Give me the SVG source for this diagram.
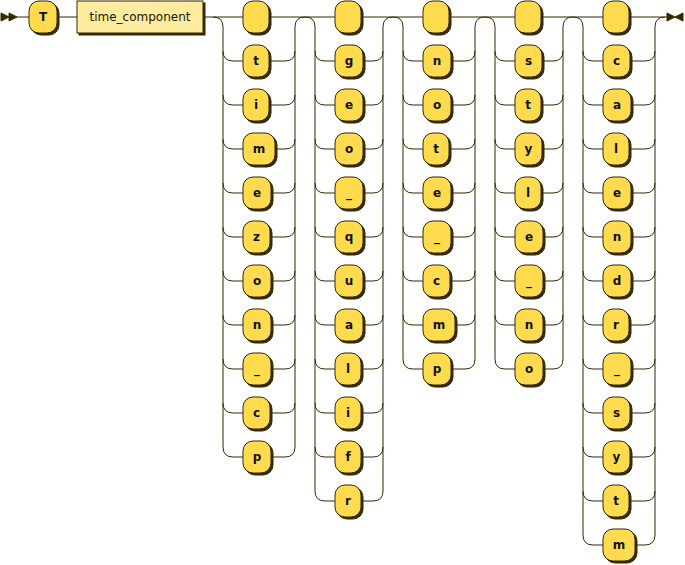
<svg xmlns="http://www.w3.org/2000/svg" width="685" height="565" viewBox="0 0 685 565">
<style>
.line{fill:none;stroke:#332900;stroke-width:1}
.mark{fill:#332900;stroke:#332900;stroke-width:1}
.sh{fill:#332900;stroke:#332900;stroke-width:1}
.term{fill:#FFDB4D;stroke:#332900;stroke-width:1}
.nonterm{fill:#FFEC9E;stroke:#332900;stroke-width:1}
text.t{font-family:"DejaVu Sans",Verdana,sans-serif;font-size:12px;font-weight:bold;fill:#141000;text-anchor:middle}
text.nt{font-family:"DejaVu Sans",Verdana,sans-serif;font-size:12px;font-weight:normal;fill:#1A1400;text-anchor:middle}
</style>
<g id="connectors">
<polygon class="mark" points="9 17 1 13 1 21"/>
<polygon class="mark" points="17 17 9 13 9 21"/>
<path class="line" d="M17 17H29M57 17H77M203 17H213"/>
<path class="line" d="M213 17H243M269 17H305M213 17q10 0 10 10V447M295 447V27q0 -10 10 -10
M223 51q0 10 10 10h10M223 95q0 10 10 10h10M223 139q0 10 10 10h10M223 183q0 10 10 10h10M223 227q0 10 10 10h10M223 271q0 10 10 10h10M223 315q0 10 10 10h10M223 359q0 10 10 10h10M223 403q0 10 10 10h10M223 447q0 10 10 10h10
M269 61H285q10 0 10 -10M269 105H285q10 0 10 -10M275 149H285q10 0 10 -10M271 193H285q10 0 10 -10M270 237H285q10 0 10 -10M271 281H285q10 0 10 -10M271 325H285q10 0 10 -10M271 369H285q10 0 10 -10M270 413H285q10 0 10 -10M271 457H285q10 0 10 -10"/>
<path class="line" d="M305 17H335M361 17H393M305 17q10 0 10 10V491M383 491V27q0 -10 10 -10
M315 51q0 10 10 10h10M315 95q0 10 10 10h10M315 139q0 10 10 10h10M315 183q0 10 10 10h10M315 227q0 10 10 10h10M315 271q0 10 10 10h10M315 315q0 10 10 10h10M315 359q0 10 10 10h10M315 403q0 10 10 10h10M315 447q0 10 10 10h10M315 491q0 10 10 10h10
M363 61H373q10 0 10 -10M363 105H373q10 0 10 -10M363 149H373q10 0 10 -10M363 193H373q10 0 10 -10M363 237H373q10 0 10 -10M363 281H373q10 0 10 -10M363 325H373q10 0 10 -10M361 369H373q10 0 10 -10M361 413H373q10 0 10 -10M361 457H373q10 0 10 -10M361 501H373q10 0 10 -10"/>
<path class="line" d="M393 17H423M449 17H485M393 17q10 0 10 10V359M475 359V27q0 -10 10 -10
M403 51q0 10 10 10h10M403 95q0 10 10 10h10M403 139q0 10 10 10h10M403 183q0 10 10 10h10M403 227q0 10 10 10h10M403 271q0 10 10 10h10M403 315q0 10 10 10h10M403 359q0 10 10 10h10
M451 61H465q10 0 10 -10M451 105H465q10 0 10 -10M449 149H465q10 0 10 -10M451 193H465q10 0 10 -10M451 237H465q10 0 10 -10M450 281H465q10 0 10 -10M455 325H465q10 0 10 -10M451 369H465q10 0 10 -10"/>
<path class="line" d="M485 17H515M541 17H573M485 17q10 0 10 10V359M563 359V27q0 -10 10 -10
M495 51q0 10 10 10h10M495 95q0 10 10 10h10M495 139q0 10 10 10h10M495 183q0 10 10 10h10M495 227q0 10 10 10h10M495 271q0 10 10 10h10M495 315q0 10 10 10h10M495 359q0 10 10 10h10
M542 61H553q10 0 10 -10M541 105H553q10 0 10 -10M542 149H553q10 0 10 -10M541 193H553q10 0 10 -10M543 237H553q10 0 10 -10M543 281H553q10 0 10 -10M543 325H553q10 0 10 -10M543 369H553q10 0 10 -10"/>
<path class="line" d="M573 17H603M629 17H667M573 17q10 0 10 10V535M655 535V27q0 -10 10 -10
M583 51q0 10 10 10h10M583 95q0 10 10 10h10M583 139q0 10 10 10h10M583 183q0 10 10 10h10M583 227q0 10 10 10h10M583 271q0 10 10 10h10M583 315q0 10 10 10h10M583 359q0 10 10 10h10M583 403q0 10 10 10h10M583 447q0 10 10 10h10M583 491q0 10 10 10h10M583 535q0 10 10 10h10
M630 61H645q10 0 10 -10M631 105H645q10 0 10 -10M629 149H645q10 0 10 -10M631 193H645q10 0 10 -10M631 237H645q10 0 10 -10M631 281H645q10 0 10 -10M629 325H645q10 0 10 -10M631 369H645q10 0 10 -10M630 413H645q10 0 10 -10M630 457H645q10 0 10 -10M629 501H645q10 0 10 -10M635 545H645q10 0 10 -10"/>
<polygon class="mark" points="675 17 667 13 667 21"/>
<polygon class="mark" points="675 17 683 13 683 21"/>
</g>
<g id="n-T"><rect class="sh" x="31" y="3" width="28" height="32" rx="10"/><rect class="term" x="29" y="1" width="28" height="32" rx="10"/><text class="t" x="43" y="21">T</text></g>
<g id="n-time_component"><rect class="sh" x="79" y="3" width="126" height="32"/><rect class="nonterm" x="77" y="1" width="126" height="32"/><text class="nt" x="140" y="21">time_component</text></g>

<g id="c1-empty"><rect class="sh" x="245" y="3" width="26" height="32" rx="10"/><rect class="term" x="243" y="1" width="26" height="32" rx="10"/></g>
<g id="c1-t"><rect class="sh" x="245" y="47" width="26" height="32" rx="10"/><rect class="term" x="243" y="45" width="26" height="32" rx="10"/><text class="t" x="256" y="65">t</text></g>
<g id="c1-i"><rect class="sh" x="245" y="91" width="26" height="32" rx="10"/><rect class="term" x="243" y="89" width="26" height="32" rx="10"/><text class="t" x="256" y="109">i</text></g>
<g id="c1-m"><rect class="sh" x="245" y="135" width="32" height="32" rx="10"/><rect class="term" x="243" y="133" width="32" height="32" rx="10"/><text class="t" x="259" y="153">m</text></g>
<g id="c1-e"><rect class="sh" x="245" y="179" width="28" height="32" rx="10"/><rect class="term" x="243" y="177" width="28" height="32" rx="10"/><text class="t" x="257" y="197">e</text></g>
<g id="c1-z"><rect class="sh" x="245" y="223" width="27" height="32" rx="10"/><rect class="term" x="243" y="221" width="27" height="32" rx="10"/><text class="t" x="256.5" y="241">z</text></g>
<g id="c1-o"><rect class="sh" x="245" y="267" width="28" height="32" rx="10"/><rect class="term" x="243" y="265" width="28" height="32" rx="10"/><text class="t" x="257" y="285">o</text></g>
<g id="c1-n"><rect class="sh" x="245" y="311" width="28" height="32" rx="10"/><rect class="term" x="243" y="309" width="28" height="32" rx="10"/><text class="t" x="257" y="329">n</text></g>
<g id="c1-underscore"><rect class="sh" x="245" y="355" width="28" height="32" rx="10"/><rect class="term" x="243" y="353" width="28" height="32" rx="10"/><text class="t" x="257" y="373">_</text></g>
<g id="c1-c"><rect class="sh" x="245" y="399" width="27" height="32" rx="10"/><rect class="term" x="243" y="397" width="27" height="32" rx="10"/><text class="t" x="256.5" y="417">c</text></g>
<g id="c1-p"><rect class="sh" x="245" y="443" width="28" height="32" rx="10"/><rect class="term" x="243" y="441" width="28" height="32" rx="10"/><text class="t" x="257" y="461">p</text></g>

<g id="c2-empty"><rect class="sh" x="337" y="3" width="26" height="32" rx="10"/><rect class="term" x="335" y="1" width="26" height="32" rx="10"/></g>
<g id="c2-g"><rect class="sh" x="337" y="47" width="28" height="32" rx="10"/><rect class="term" x="335" y="45" width="28" height="32" rx="10"/><text class="t" x="349" y="65">g</text></g>
<g id="c2-e"><rect class="sh" x="337" y="91" width="28" height="32" rx="10"/><rect class="term" x="335" y="89" width="28" height="32" rx="10"/><text class="t" x="349" y="109">e</text></g>
<g id="c2-o"><rect class="sh" x="337" y="135" width="28" height="32" rx="10"/><rect class="term" x="335" y="133" width="28" height="32" rx="10"/><text class="t" x="349" y="153">o</text></g>
<g id="c2-underscore"><rect class="sh" x="337" y="179" width="28" height="32" rx="10"/><rect class="term" x="335" y="177" width="28" height="32" rx="10"/><text class="t" x="349" y="197">_</text></g>
<g id="c2-q"><rect class="sh" x="337" y="223" width="28" height="32" rx="10"/><rect class="term" x="335" y="221" width="28" height="32" rx="10"/><text class="t" x="349" y="241">q</text></g>
<g id="c2-u"><rect class="sh" x="337" y="267" width="28" height="32" rx="10"/><rect class="term" x="335" y="265" width="28" height="32" rx="10"/><text class="t" x="349" y="285">u</text></g>
<g id="c2-a"><rect class="sh" x="337" y="311" width="28" height="32" rx="10"/><rect class="term" x="335" y="309" width="28" height="32" rx="10"/><text class="t" x="349" y="329">a</text></g>
<g id="c2-l"><rect class="sh" x="337" y="355" width="26" height="32" rx="10"/><rect class="term" x="335" y="353" width="26" height="32" rx="10"/><text class="t" x="348" y="373">l</text></g>
<g id="c2-i"><rect class="sh" x="337" y="399" width="26" height="32" rx="10"/><rect class="term" x="335" y="397" width="26" height="32" rx="10"/><text class="t" x="348" y="417">i</text></g>
<g id="c2-f"><rect class="sh" x="337" y="443" width="26" height="32" rx="10"/><rect class="term" x="335" y="441" width="26" height="32" rx="10"/><text class="t" x="348" y="461">f</text></g>
<g id="c2-r"><rect class="sh" x="337" y="487" width="26" height="32" rx="10"/><rect class="term" x="335" y="485" width="26" height="32" rx="10"/><text class="t" x="348" y="505">r</text></g>

<g id="c3-empty"><rect class="sh" x="425" y="3" width="26" height="32" rx="10"/><rect class="term" x="423" y="1" width="26" height="32" rx="10"/></g>
<g id="c3-n"><rect class="sh" x="425" y="47" width="28" height="32" rx="10"/><rect class="term" x="423" y="45" width="28" height="32" rx="10"/><text class="t" x="437" y="65">n</text></g>
<g id="c3-o"><rect class="sh" x="425" y="91" width="28" height="32" rx="10"/><rect class="term" x="423" y="89" width="28" height="32" rx="10"/><text class="t" x="437" y="109">o</text></g>
<g id="c3-t"><rect class="sh" x="425" y="135" width="26" height="32" rx="10"/><rect class="term" x="423" y="133" width="26" height="32" rx="10"/><text class="t" x="436" y="153">t</text></g>
<g id="c3-e"><rect class="sh" x="425" y="179" width="28" height="32" rx="10"/><rect class="term" x="423" y="177" width="28" height="32" rx="10"/><text class="t" x="437" y="197">e</text></g>
<g id="c3-underscore"><rect class="sh" x="425" y="223" width="28" height="32" rx="10"/><rect class="term" x="423" y="221" width="28" height="32" rx="10"/><text class="t" x="437" y="241">_</text></g>
<g id="c3-c"><rect class="sh" x="425" y="267" width="27" height="32" rx="10"/><rect class="term" x="423" y="265" width="27" height="32" rx="10"/><text class="t" x="436.5" y="285">c</text></g>
<g id="c3-m"><rect class="sh" x="425" y="311" width="32" height="32" rx="10"/><rect class="term" x="423" y="309" width="32" height="32" rx="10"/><text class="t" x="439" y="329">m</text></g>
<g id="c3-p"><rect class="sh" x="425" y="355" width="28" height="32" rx="10"/><rect class="term" x="423" y="353" width="28" height="32" rx="10"/><text class="t" x="437" y="373">p</text></g>

<g id="c4-empty"><rect class="sh" x="517" y="3" width="26" height="32" rx="10"/><rect class="term" x="515" y="1" width="26" height="32" rx="10"/></g>
<g id="c4-s"><rect class="sh" x="517" y="47" width="27" height="32" rx="10"/><rect class="term" x="515" y="45" width="27" height="32" rx="10"/><text class="t" x="528.5" y="65">s</text></g>
<g id="c4-t"><rect class="sh" x="517" y="91" width="26" height="32" rx="10"/><rect class="term" x="515" y="89" width="26" height="32" rx="10"/><text class="t" x="528" y="109">t</text></g>
<g id="c4-y"><rect class="sh" x="517" y="135" width="27" height="32" rx="10"/><rect class="term" x="515" y="133" width="27" height="32" rx="10"/><text class="t" x="528.5" y="153">y</text></g>
<g id="c4-l"><rect class="sh" x="517" y="179" width="26" height="32" rx="10"/><rect class="term" x="515" y="177" width="26" height="32" rx="10"/><text class="t" x="528" y="197">l</text></g>
<g id="c4-e"><rect class="sh" x="517" y="223" width="28" height="32" rx="10"/><rect class="term" x="515" y="221" width="28" height="32" rx="10"/><text class="t" x="529" y="241">e</text></g>
<g id="c4-underscore"><rect class="sh" x="517" y="267" width="28" height="32" rx="10"/><rect class="term" x="515" y="265" width="28" height="32" rx="10"/><text class="t" x="529" y="285">_</text></g>
<g id="c4-n"><rect class="sh" x="517" y="311" width="28" height="32" rx="10"/><rect class="term" x="515" y="309" width="28" height="32" rx="10"/><text class="t" x="529" y="329">n</text></g>
<g id="c4-o"><rect class="sh" x="517" y="355" width="28" height="32" rx="10"/><rect class="term" x="515" y="353" width="28" height="32" rx="10"/><text class="t" x="529" y="373">o</text></g>

<g id="c5-empty"><rect class="sh" x="605" y="3" width="26" height="32" rx="10"/><rect class="term" x="603" y="1" width="26" height="32" rx="10"/></g>
<g id="c5-c"><rect class="sh" x="605" y="47" width="27" height="32" rx="10"/><rect class="term" x="603" y="45" width="27" height="32" rx="10"/><text class="t" x="616.5" y="65">c</text></g>
<g id="c5-a"><rect class="sh" x="605" y="91" width="28" height="32" rx="10"/><rect class="term" x="603" y="89" width="28" height="32" rx="10"/><text class="t" x="617" y="109">a</text></g>
<g id="c5-l"><rect class="sh" x="605" y="135" width="26" height="32" rx="10"/><rect class="term" x="603" y="133" width="26" height="32" rx="10"/><text class="t" x="616" y="153">l</text></g>
<g id="c5-e"><rect class="sh" x="605" y="179" width="28" height="32" rx="10"/><rect class="term" x="603" y="177" width="28" height="32" rx="10"/><text class="t" x="617" y="197">e</text></g>
<g id="c5-n"><rect class="sh" x="605" y="223" width="28" height="32" rx="10"/><rect class="term" x="603" y="221" width="28" height="32" rx="10"/><text class="t" x="617" y="241">n</text></g>
<g id="c5-d"><rect class="sh" x="605" y="267" width="28" height="32" rx="10"/><rect class="term" x="603" y="265" width="28" height="32" rx="10"/><text class="t" x="617" y="285">d</text></g>
<g id="c5-r"><rect class="sh" x="605" y="311" width="26" height="32" rx="10"/><rect class="term" x="603" y="309" width="26" height="32" rx="10"/><text class="t" x="616" y="329">r</text></g>
<g id="c5-underscore"><rect class="sh" x="605" y="355" width="28" height="32" rx="10"/><rect class="term" x="603" y="353" width="28" height="32" rx="10"/><text class="t" x="617" y="373">_</text></g>
<g id="c5-s"><rect class="sh" x="605" y="399" width="27" height="32" rx="10"/><rect class="term" x="603" y="397" width="27" height="32" rx="10"/><text class="t" x="616.5" y="417">s</text></g>
<g id="c5-y"><rect class="sh" x="605" y="443" width="27" height="32" rx="10"/><rect class="term" x="603" y="441" width="27" height="32" rx="10"/><text class="t" x="616.5" y="461">y</text></g>
<g id="c5-t"><rect class="sh" x="605" y="487" width="26" height="32" rx="10"/><rect class="term" x="603" y="485" width="26" height="32" rx="10"/><text class="t" x="616" y="505">t</text></g>
<g id="c5-m"><rect class="sh" x="605" y="531" width="32" height="32" rx="10"/><rect class="term" x="603" y="529" width="32" height="32" rx="10"/><text class="t" x="619" y="549">m</text></g>
</svg>
